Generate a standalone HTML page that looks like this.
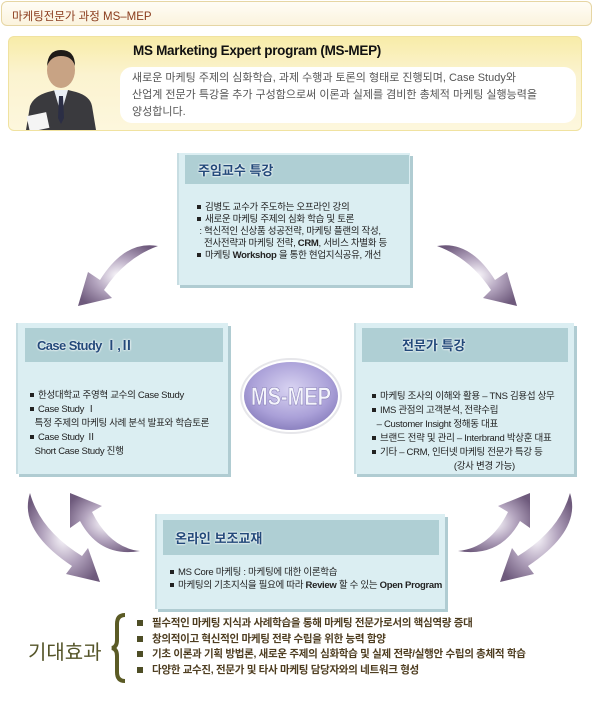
<!DOCTYPE html>
<html><head><meta charset="utf-8"><style>
*{margin:0;padding:0;box-sizing:border-box}
body{width:600px;height:708px;background:#fff;position:relative;overflow:hidden;font-family:"Liberation Sans","Noto Sans CJK KR",sans-serif}
.a{position:absolute}
.hdr{left:1px;top:1px;width:591px;height:25px;border:1px solid #e6d6a4;border-radius:6px;background:linear-gradient(#fffdf6,#fbf3dd);color:#8a3b1c;font-size:11.5px;padding:6px 0 0 10px}
.yel{left:8px;top:36px;width:574px;height:95px;border-radius:6px;background:linear-gradient(#f8eca8,#fbf3cf 40%,#fdf7dd);border:1px solid #f0e2a0}
.wht{left:120px;top:67px;width:456px;height:56px;background:#fff;border-radius:12px;font-size:11px;color:#555;line-height:17px;padding:3px 0 0 12px}
.box{position:absolute;background:#dbeef2;border-left:2px solid #c7dde2;box-shadow:3px 3px 0 #b0ccd2}
.bh{position:absolute;background:#afcfd4;color:#23497a;font-weight:bold;font-size:13px;text-shadow:0 0 2px #fff,0 0 2px #fff}
.bt{position:absolute;font-size:9.5px;color:#222;line-height:12px;white-space:nowrap;letter-spacing:-0.3px}
.sq{display:inline-block;width:4px;height:4px;background:#222;margin:0 4px 1px 0}
.ef{font-size:10.5px;color:#4e3d20;line-height:15.7px;white-space:nowrap;letter-spacing:-0.3px;font-weight:bold}
.ef .s{display:inline-block;width:6px;height:6px;background:#4e4e26;margin-right:9px}
</style></head><body>
<div class="a hdr">마케팅전문가 과정 MS–MEP</div>
<div class="a yel"></div>
<svg class="a" style="left:24px;top:44px" width="74" height="86" viewBox="0 0 74 86">
<path d="M2 86 L6 62 Q10 52 24 48 L32 46 L44 46 L52 48 Q66 52 68 62 L72 86Z" fill="#3a3a3e"/>
<path d="M30 46 L37 70 L44 46Z" fill="#e9eef4"/>
<path d="M35 52 L39 52 L40 74 L37 80 L34 74Z" fill="#2b2e45"/>
<ellipse cx="37" cy="26" rx="14" ry="18" fill="#c8a384"/>
<path d="M23 22 Q24 6 37 6 Q51 6 51 22 Q48 12 37 12 Q27 12 23 22Z" fill="#1f1b18"/>
<rect x="4" y="70" width="20" height="16" fill="#f4f4f4" transform="rotate(-12 14 78)"/>
</svg>
<div class="a" style="left:133px;top:43px;font-size:13.5px;font-weight:bold;color:#111;letter-spacing:-0.3px">MS Marketing Expert program (MS-MEP)</div>
<div class="a wht">새로운 마케팅 주제의 심화학습, 과제 수행과 토론의 형태로 진행되며, Case Study와<br>산업계 전문가 특강을 추가 구성함으로써 이론과 실제를 겸비한 총체적 마케팅 실행능력을<br>양성합니다.</div>

<svg class="a" style="left:0;top:0" width="600" height="708">
<defs><radialGradient id="g" cx="0.5" cy="0.5" r="0.6"><stop offset="0" stop-color="#fbf9fd"/><stop offset="0.5" stop-color="#b3a4be"/><stop offset="1" stop-color="#6e5a7c"/></radialGradient>
<radialGradient id="e" cx="0.5" cy="0.4" r="0.6"><stop offset="0" stop-color="#d9d4f2"/><stop offset="0.7" stop-color="#aaa0d8"/><stop offset="1" stop-color="#8c82c0"/></radialGradient></defs>
<path d="M158 246 Q125 240 100 280 L88 272 L78 306 L112 298 L104 290 Q125 258 158 246Z" fill="url(#g)"/>
<path d="M437 246 Q470 240 495 280 L507 272 L517 306 L483 298 L491 290 Q470 258 437 246Z" fill="url(#g)"/>
<path d="M30 493 Q18 530 72 566 L66 574 L100 582 L88 548 L82 556 Q40 530 30 493Z" fill="url(#g)"/>
<path d="M140 551 Q110 548 92 512 L102 506 L70 493 L70 528 L80 521 Q100 558 140 551Z" fill="url(#g)"/>
<path d="M570 493 Q582 530 528 566 L534 574 L500 582 L512 548 L518 556 Q560 530 570 493Z" fill="url(#g)"/>
<path d="M458 551 Q490 548 508 512 L498 506 L530 493 L530 528 L520 521 Q500 558 458 551Z" fill="url(#g)"/>
<ellipse cx="291" cy="396" rx="50" ry="37" fill="#fff" stroke="#e6e6ea" stroke-width="2"/>
<ellipse cx="291" cy="396" rx="47" ry="34" fill="url(#e)"/>
<text x="291" y="405" text-anchor="middle" font-family="Liberation Sans Narrow,Liberation Sans,sans-serif" font-size="25" font-weight="bold" fill="#f4f4fc" stroke="#8078b0" stroke-width="0.5" textLength="80" lengthAdjust="spacingAndGlyphs">MS-MEP</text>
</svg>

<div class="box" style="left:177px;top:153px;width:233px;height:132px"></div>
<div class="bh" style="left:185px;top:155px;width:224px;height:29px;padding:5px 0 0 13px">주임교수 특강</div>
<div class="bt" style="left:197px;top:202px">
<span class="sq"></span>김병도 교수가 주도하는 오프라인 강의<br><span class="sq"></span>새로운 마케팅 주제의 심화 학습 및 토론<br>&nbsp;: 혁신적인 신상품 성공전략, 마케팅 플랜의 작성,<br>&nbsp;&nbsp;&nbsp;전사전략과 마케팅 전략, <b>CRM</b>, 서비스 차별화 등<br><span class="sq"></span>마케팅 <b>Workshop</b> 을 통한 현업지식공유, 개선</div>

<div class="box" style="left:16px;top:323px;width:212px;height:151px"></div>
<div class="bh" style="left:25px;top:328px;width:198px;height:34px;padding:7px 0 0 12px;letter-spacing:-0.6px">Case Study Ⅰ,Ⅱ</div>
<div class="bt" style="left:30px;top:389px;line-height:14px">
<span class="sq"></span>한성대학교 주영혁 교수의 Case Study<br><span class="sq"></span>Case Study Ⅰ<br>&nbsp;&nbsp;특정 주제의 마케팅 사례 분석 발표와 학습토론<br><span class="sq"></span>Case Study Ⅱ<br>&nbsp;&nbsp;Short Case Study 진행</div>

<div class="box" style="left:354px;top:323px;width:220px;height:151px"></div>
<div class="bh" style="left:362px;top:328px;width:206px;height:34px;padding:7px 0 0 40px">전문가 특강</div>
<div class="bt" style="left:372px;top:390px;line-height:14px">
<span class="sq"></span>마케팅 조사의 이해와 활용 – TNS 김용섭 상무<br><span class="sq"></span>IMS 관점의 고객분석, 전략수립<br>&nbsp;&nbsp;– Customer Insight 정해동 대표<br><span class="sq"></span>브랜드 전략 및 관리 – Interbrand 박상훈 대표<br><span class="sq"></span>기타 – CRM, 인터넷 마케팅 전문가 특강 등<br>&nbsp;&nbsp;&nbsp;&nbsp;&nbsp;&nbsp;&nbsp;&nbsp;&nbsp;&nbsp;&nbsp;&nbsp;&nbsp;&nbsp;&nbsp;&nbsp;&nbsp;&nbsp;&nbsp;&nbsp;&nbsp;&nbsp;&nbsp;&nbsp;&nbsp;&nbsp;&nbsp;&nbsp;&nbsp;&nbsp;&nbsp;&nbsp;&nbsp;&nbsp;&nbsp;(강사 변경 가능)</div>

<div class="box" style="left:155px;top:514px;width:290px;height:95px"></div>
<div class="bh" style="left:163px;top:520px;width:276px;height:35px;padding:8px 0 0 12px">온라인 보조교재</div>
<div class="bt" style="left:170px;top:566px;line-height:13px">
<span class="sq"></span>MS Core 마케팅 : 마케팅에 대한 이론학습<br><span class="sq"></span>마케팅의 기초지식을 필요에 따라 <b>Review</b> 할 수 있는 <b>Open Program</b></div>

<div class="a" style="left:28px;top:636px;font-size:20px;color:#55552a">기대효과</div>
<svg class="a" style="left:110px;top:612px" width="20" height="72"><path d="M15 3 Q7 3 7 12 L7 28 Q7 35 2 36 Q7 37 7 44 L7 60 Q7 69 15 69" fill="none" stroke="#5b5b25" stroke-width="4"/></svg>
<div class="a ef" style="left:137px;top:616px">
<span class="s"></span>필수적인 마케팅 지식과 사례학습을 통해 마케팅 전문가로서의 핵심역량 증대<br><span class="s"></span>창의적이고 혁신적인 마케팅 전략 수립을 위한 능력 함양<br><span class="s"></span>기초 이론과 기획 방법론, 새로운 주제의 심화학습 및 실제 전략/실행안 수립의 총체적 학습<br><span class="s"></span>다양한 교수진, 전문가 및 타사 마케팅 담당자와의 네트워크 형성</div>
</body></html>
